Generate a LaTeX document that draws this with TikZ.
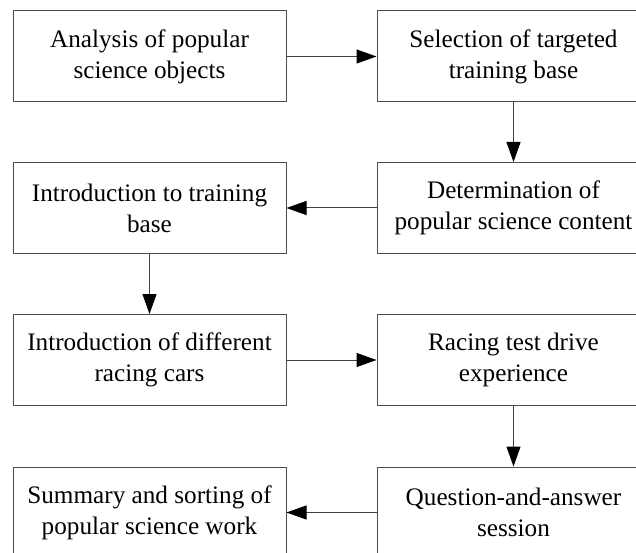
\documentclass[tikz,border=0pt]{standalone}
\usepackage{fontspec}
\setmainfont{Liberation Serif}
\usetikzlibrary{arrows.meta}
\begin{document}
\begin{tikzpicture}[x=1pt,y=-1pt,
  stepbox/.style={draw=black!70, line width=1pt, minimum width=273pt, minimum height=91pt,
    inner sep=0pt, align=center, font=\fontsize{25.2}{31}\selectfont},
  flow/.style={draw=black!75, line width=1pt, -{Triangle[length=20pt,width=14pt,color=black,fill=black]}}]
\useasboundingbox (0,0) rectangle (636,553);
\clip (0,0) rectangle (636,553);
\node[stepbox] (a) at (149.5,56.5) {Analysis of popular\\science objects};
\node[stepbox] (b) at (513.5,56.5) {Selection of targeted\\training base};
\node[stepbox] (c) at (513.5,208) {Determination of\\popular science content};
\node[stepbox] (d) at (149.5,208) {Introduction to training\\base};
\node[stepbox] (e) at (149.5,360) {Introduction of different\\racing cars};
\node[stepbox] (f) at (513.5,360) {Racing test drive\\experience};
\node[stepbox] (g) at (513.5,512.5) {Question-and-answer\\session};
\node[stepbox] (h) at (149.5,512.5) {Summary and sorting of\\popular science work};
\draw[flow] (a) -- (b);
\draw[flow] (b) -- (c);
\draw[flow] (c) -- (d);
\draw[flow] (d) -- (e);
\draw[flow] (e) -- (f);
\draw[flow] (f) -- (g);
\draw[flow] (g) -- (h);
\end{tikzpicture}
\end{document}
